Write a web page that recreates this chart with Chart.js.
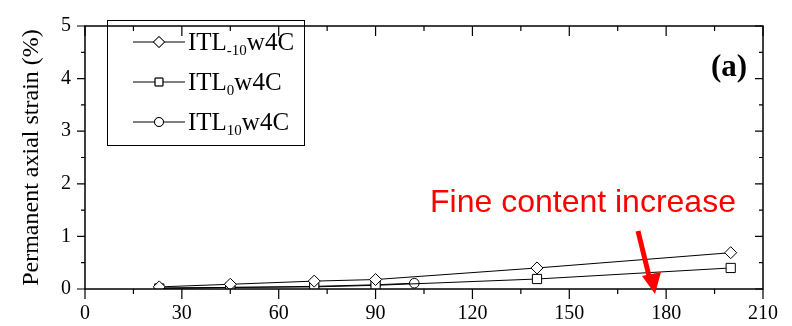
<!DOCTYPE html>
<html>
<head>
<meta charset="utf-8">
<script src="https://cdn.jsdelivr.net/npm/chart.js@4.4.1/dist/chart.umd.min.js"></script>
<style>
	html, body { margin: 0; padding: 0; background: #fff; }
	#wrap { width: 792px; height: 326px; position: relative; }
</style>
</head>
<body>
<div id="wrap"><canvas id="chart"></canvas></div>
<script>
'use strict';

// cycles (x) and permanent axial strain (%) per specimen
var xNeg10 = [23, 45, 71, 90, 140, 200];
var yNeg10 = [0.04, 0.09, 0.15, 0.18, 0.40, 0.69];

var xZero = [23, 45, 71, 90, 140, 200];
var yZero = [0.01, 0.03, 0.04, 0.07, 0.19, 0.40];

var xTen = [23, 45, 71, 90, 102];
var yTen = [0.02, 0.03, 0.05, 0.08, 0.11];

var xTicks = [0, 30, 60, 90, 120, 150, 180, 210];
var yTicks = [0, 1, 2, 3, 4, 5];

var legendNames = [
	['ITL', '-10', 'w4C'],
	['ITL', '0', 'w4C'],
	['ITL', '10', 'w4C']
];
var legendStyles = ['rectRot', 'rect', 'circle'];

var SERIF = '"Liberation Serif", "Times New Roman", serif';

function toPoints(xs, ys) {
	return xs.map(function(x, i) {
		return {x: x, y: ys[i]};
	});
}

function series(xs, ys, style, r) {
	return {
		data: toPoints(xs, ys),
		borderColor: '#000',
		borderWidth: 1,
		backgroundColor: '#fff',
		pointStyle: style,
		pointRadius: r,
		pointBorderWidth: 1,
		pointBorderColor: '#000',
		pointBackgroundColor: '#fff',
		tension: 0
	};
}

var framePlugin = {
	id: 'frame',
	afterDraw: function(chart) {
		var ctx = chart.ctx;
		var a = chart.chartArea;
		var xs = chart.scales.x;
		var ys = chart.scales.y;
		var v, p, len;

		ctx.save();
		ctx.strokeStyle = '#000';
		ctx.lineWidth = 1.5;
		ctx.strokeRect(a.left, a.top, a.right - a.left, a.bottom - a.top);

		ctx.lineWidth = 1.2;
		ctx.beginPath();
		for (v = 0; v <= 210; v += 15) {
			p = xs.getPixelForValue(v);
			len = v % 30 === 0 ? 10 : 5;
			ctx.moveTo(p, a.bottom);
			ctx.lineTo(p, a.bottom + len);
			ctx.moveTo(p, a.top);
			ctx.lineTo(p, a.top + len);
		}
		for (v = 0; v <= 5; v += 0.5) {
			p = ys.getPixelForValue(v);
			len = v % 1 === 0 ? 8 : 4;
			ctx.moveTo(a.left, p);
			ctx.lineTo(a.left - len, p);
			ctx.moveTo(a.right, p);
			ctx.lineTo(a.right - len, p);
		}
		ctx.stroke();

		// legend box
		var bx = 107, by = 20, bw = 197, bh = 125;
		ctx.lineWidth = 1;
		ctx.strokeRect(bx + 0.5, by + 0.5, bw, bh);
		var rows = [42, 82, 122];
		rows.forEach(function(ry, i) {
			ctx.beginPath();
			ctx.moveTo(133, ry);
			ctx.lineTo(185, ry);
			ctx.stroke();
			ctx.fillStyle = '#fff';
			Chart.helpers.drawPoint(ctx, {
				pointStyle: legendStyles[i],
				radius: i === 2 ? 4.5 : 5.5,
				borderWidth: 1
			}, 159, ry);
			ctx.fill();
			ctx.stroke();

			var name = legendNames[i];
			var tx = 188;
			ctx.fillStyle = '#000';
			ctx.textBaseline = 'alphabetic';
			ctx.textAlign = 'left';
			ctx.font = '25px ' + SERIF;
			ctx.fillText(name[0], tx, ry + 8);
			tx += ctx.measureText(name[0]).width;
			ctx.font = '15px ' + SERIF;
			ctx.fillText(name[1], tx, ry + 13);
			tx += ctx.measureText(name[1]).width;
			ctx.font = '25px ' + SERIF;
			ctx.fillText(name[2], tx, ry + 8);
		});

		// panel label
		ctx.fillStyle = '#000';
		ctx.font = 'bold 31px ' + SERIF;
		ctx.textAlign = 'center';
		ctx.textBaseline = 'middle';
		ctx.fillText('(a)', 729, 68);

		// annotation
		ctx.fillStyle = '#ff0000';
		ctx.font = '32px "Liberation Sans", Arial, sans-serif';
		ctx.textAlign = 'left';
		ctx.fillText('Fine content increase', 430, 203);

		ctx.strokeStyle = '#ff0000';
		ctx.lineWidth = 5;
		ctx.beginPath();
		ctx.moveTo(638, 231);
		ctx.lineTo(649, 276);
		ctx.stroke();
		ctx.beginPath();
		ctx.moveTo(642, 276);
		ctx.lineTo(661, 272);
		ctx.lineTo(655, 294);
		ctx.closePath();
		ctx.fill();
		ctx.restore();
	}
};

new Chart(document.getElementById('chart'), {
	type: 'line',
	data: {
		datasets: [
			series(xNeg10, yNeg10, 'rectRot', 6),
			series(xZero, yZero, 'rect', 6.5),
			series(xTen, yTen, 'circle', 4.8)
		]
	},
	options: {
		responsive: true,
		maintainAspectRatio: false,
		animation: false,
		layout: {padding: {top: 12, right: 29, left: 0, bottom: 0}},
		plugins: {
			legend: {display: false},
			tooltip: {enabled: false}
		},
		scales: {
			x: {
				type: 'linear',
				min: 0,
				max: 210,
				afterFit: function(scale) { scale.height = 37; },
				afterBuildTicks: function(scale) {
					scale.ticks = xTicks.map(function(v) { return {value: v}; });
				},
				grid: {display: false, drawTicks: false},
				border: {display: false},
				ticks: {
					color: '#000',
					padding: 13,
					maxRotation: 0,
					font: {family: SERIF, size: 20}
				}
			},
			y: {
				type: 'linear',
				min: 0,
				max: 5,
				afterFit: function(scale) { scale.width = 85; },
				afterBuildTicks: function(scale) {
					scale.ticks = yTicks.map(function(v) { return {value: v}; });
				},
				grid: {display: false, drawTicks: false},
				border: {display: false},
				ticks: {
					color: '#000',
					padding: 14,
					font: {family: SERIF, size: 20}
				},
				title: {
					display: true,
					text: 'Permanent axial strain (%)',
					color: '#000',
					font: {family: SERIF, size: 24},
					padding: {top: 17, bottom: 0}
				}
			}
		}
	},
	plugins: [framePlugin]
});
</script>
</body>
</html>
